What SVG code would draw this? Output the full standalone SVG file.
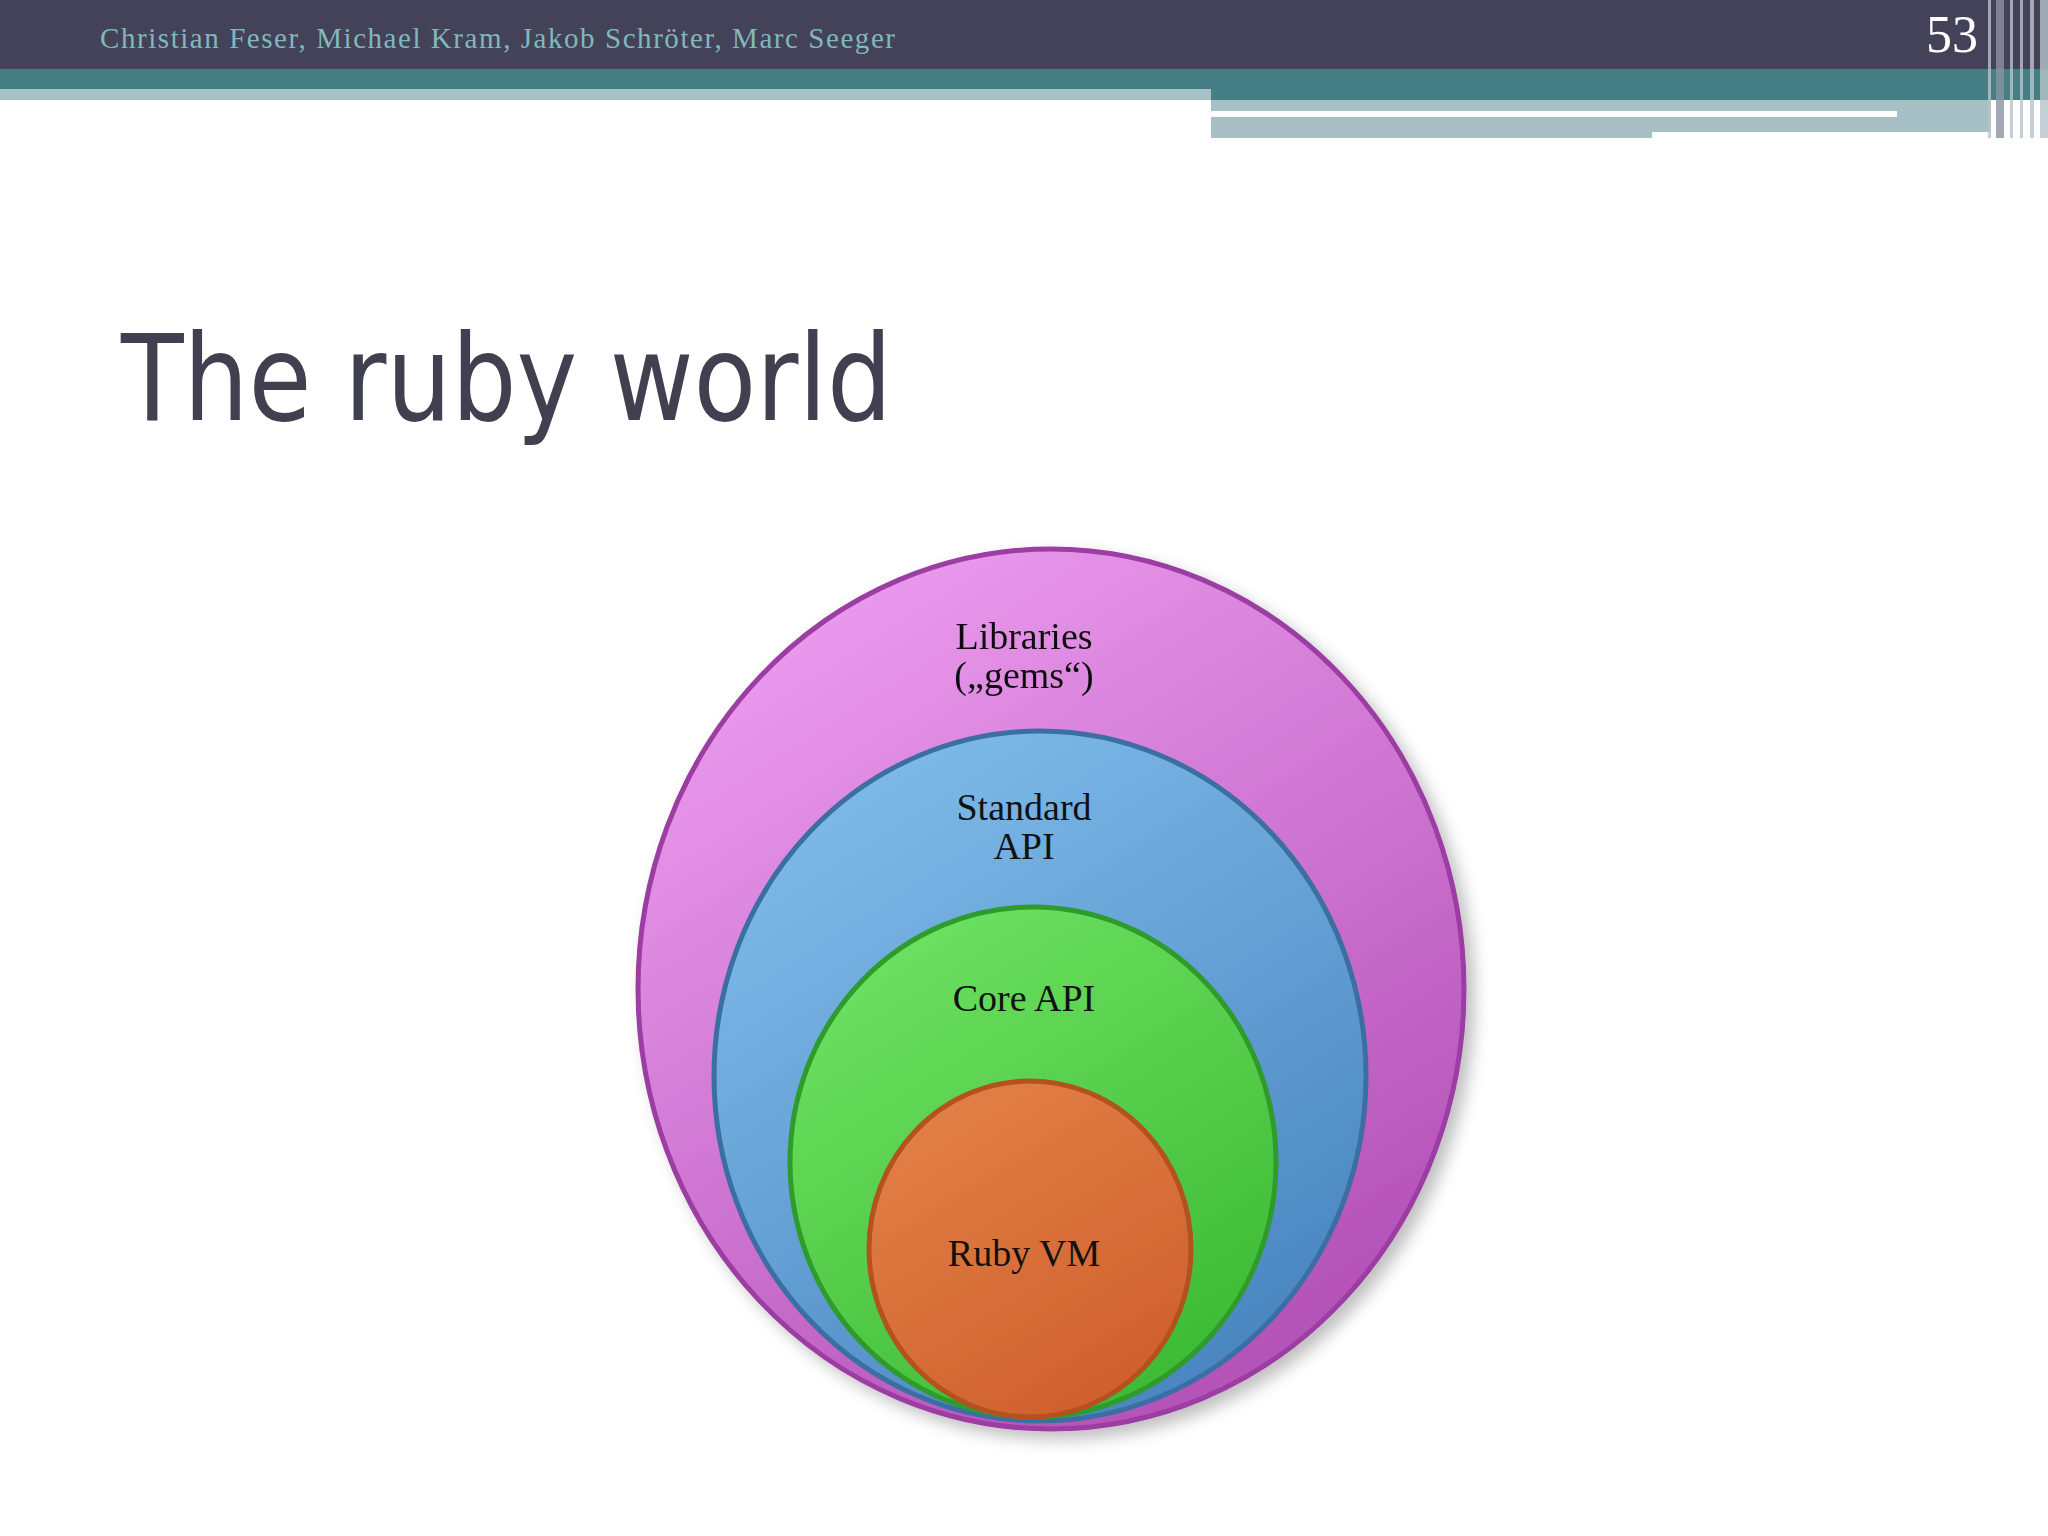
<svg xmlns="http://www.w3.org/2000/svg" width="2048" height="1536" viewBox="0 0 2048 1536">
<defs>
<linearGradient id="gp" x1="0" y1="0" x2="0.6" y2="1"><stop offset="0" stop-color="#f3a6f6"/><stop offset="1" stop-color="#b452b8"/></linearGradient>
<linearGradient id="gb" x1="0" y1="0" x2="0.6" y2="1"><stop offset="0" stop-color="#86c2ee"/><stop offset="1" stop-color="#4b88c2"/></linearGradient>
<linearGradient id="gg" x1="0" y1="0" x2="0.6" y2="1"><stop offset="0" stop-color="#74e668"/><stop offset="1" stop-color="#3fbc36"/></linearGradient>
<linearGradient id="go" x1="0" y1="0" x2="0.6" y2="1"><stop offset="0" stop-color="#e4844a"/><stop offset="1" stop-color="#d0612e"/></linearGradient>
<filter id="sh" x="-10%" y="-10%" width="125%" height="125%"><feDropShadow dx="8" dy="8" stdDeviation="8" flood-color="#000" flood-opacity="0.25"/></filter>
</defs>
<style>
.lbl{font-family:"Liberation Serif",serif;font-size:38px;fill:#111;text-anchor:middle}
.ring{stroke-width:5}
</style>
<rect width="2048" height="1536" fill="#fff"/>
<rect x="0" y="0" width="2048" height="69" fill="#444258"/>
<rect x="0" y="69" width="2048" height="31" fill="#437f85"/>
<rect x="0" y="89" width="1211" height="11" fill="#a7c0c6"/>
<rect x="1211" y="100" width="780" height="38" fill="#a7c0c6"/>
<rect x="1211" y="111" width="686" height="6" fill="#fff"/>
<rect x="1652" y="132" width="358" height="8" fill="#fff"/>
<g fill="#b8c4cc" opacity="0.8">
<rect x="1988" y="0" width="3" height="138"/><rect x="1996" y="0" width="8" height="138" fill="#8a93a4"/><rect x="2010" y="0" width="3" height="138"/><rect x="2020" y="0" width="3" height="138"/><rect x="2030" y="0" width="4" height="138"/><rect x="2040" y="0" width="8" height="138"/>
</g>
<text x="100" y="48" font-family="Liberation Serif,serif" font-size="29" fill="#7fb8bd" textLength="795">Christian Feser, Michael Kram, Jakob Schröter, Marc Seeger</text>
<text x="1926" y="52" font-family="Liberation Serif,serif" font-size="52" fill="#fff">53</text>
<text x="121" y="420" font-family="DejaVu Sans,sans-serif" font-size="120" fill="#404050" textLength="771" lengthAdjust="spacingAndGlyphs">The ruby world</text>
<g id="libraries" filter="url(#sh)"><ellipse class="ring" cx="1051" cy="989" rx="413" ry="440" fill="url(#gp)" stroke="#9b3ca2"/>
<text class="lbl" x="1024" y="649">Libraries</text><text class="lbl" x="1024" y="688">(„gems“)</text></g>
<g id="standard"><ellipse class="ring" cx="1040" cy="1076" rx="326" ry="345" fill="url(#gb)" stroke="#3b6fa2"/>
<text class="lbl" x="1024" y="820">Standard</text><text class="lbl" x="1024" y="859">API</text></g>
<g id="core"><ellipse class="ring" cx="1033" cy="1162" rx="243" ry="255" fill="url(#gg)" stroke="#2f9b2b"/>
<text class="lbl" x="1024" y="1011">Core API</text></g>
<g id="rubyvm"><ellipse class="ring" cx="1030" cy="1249" rx="161" ry="168" fill="url(#go)" stroke="#b3521f"/>
<text class="lbl" x="1024" y="1266">Ruby VM</text></g>
<g id="connectors"/>
</svg>
